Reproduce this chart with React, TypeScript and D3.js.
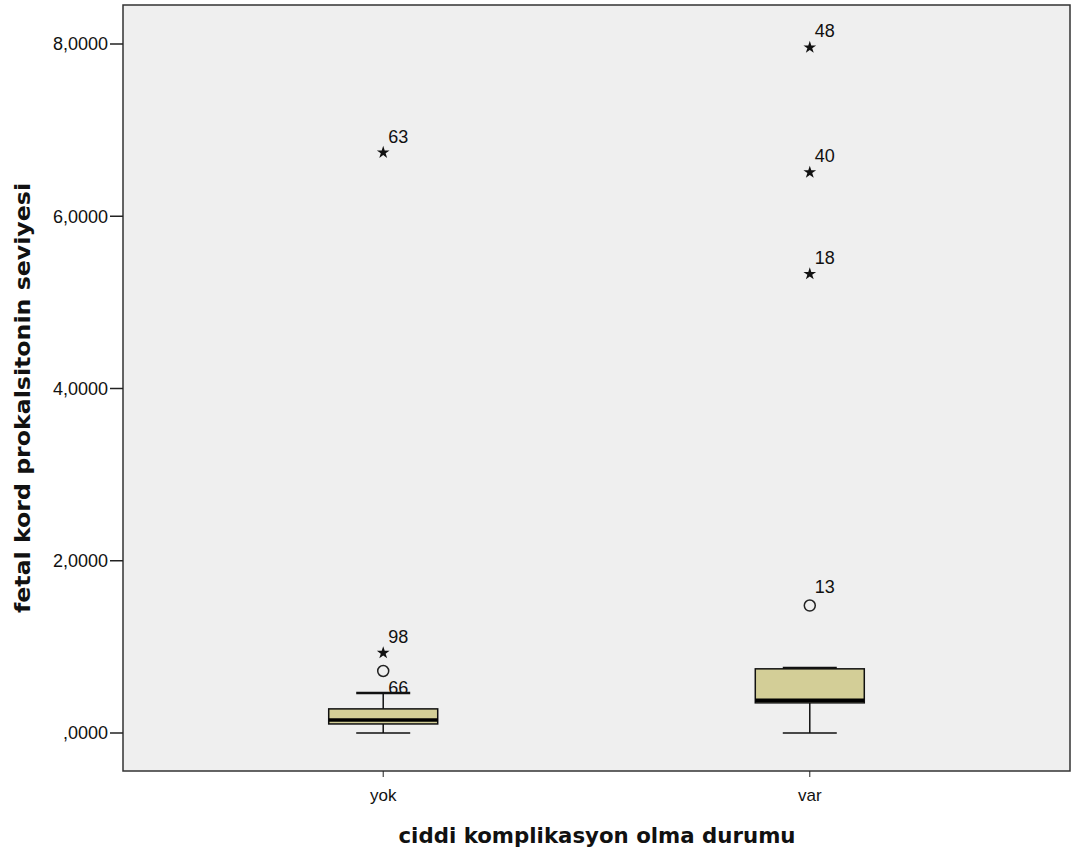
import React from "react";
import * as d3 from "d3";

const categories = ["yok", "var"];
const whiskerLow = [0.0, 0.0];
const q1 = [0.105, 0.35];
const medians = [0.15, 0.38];
const q3 = [0.28, 0.745];
const whiskerHigh = [0.465, 0.755];
// outliers
const outlierCat = [0, 0, 0, 1, 1, 1, 1];
const outlierVal = [6.74, 0.93, 0.72, 7.96, 6.51, 5.33, 1.48];
const outlierId = ["63", "98", "66", "48", "40", "18", "13"];
const outlierKind = ["star", "star", "circle", "star", "star", "star", "circle"];
const yTicks = [0, 2, 4, 6, 8];
const yTickLabels = [",0000", "2,0000", "4,0000", "6,0000", "8,0000"];

const W = 1072;
const H = 857;
const left = 123;
const right = 1070;
const top = 5;
const bottom = 771;

export default function App() {
  const x = d3.scalePoint<string>().domain(categories).range([left, right]).padding(0.61);
  const y = d3.scaleLinear().domain([0, 8]).range([733, 44]);
  const boxHalf = 54.5;
  const capHalf = 27;
  const star = d3.symbol().type(d3.symbolStar).size(50)() as string;
  const font = "'Liberation Sans', Arial, sans-serif";
  const titleFont = "'DejaVu Sans', Verdana, sans-serif";

  return (
    <svg width={W} height={H} style={{ position: "absolute", left: 0, top: 0, background: "#fff" }} fontFamily={font}>
      <rect x={left} y={top} width={right - left} height={bottom - top} fill="#efefef" stroke="#333" strokeWidth={1.5} />
      {yTicks.map((t, i) => (
        <g key={"yt" + i}>
          <line x1={left - 13} x2={left} y1={y(t)} y2={y(t)} stroke="#222" strokeWidth={1.5} />
          <text x={108} y={y(t)} dy="0.36em" textAnchor="end" fontSize={18} fill="#111">
            {yTickLabels[i]}
          </text>
        </g>
      ))}
      {categories.map((c) => (
        <g key={"xt" + c}>
          <line x1={x(c)} x2={x(c)} y1={bottom} y2={bottom + 6} stroke="#222" strokeWidth={1} />
          <text x={x(c)} y={801} textAnchor="middle" fontSize={17} fill="#111">
            {c}
          </text>
        </g>
      ))}
      {categories.map((c, i) => {
        const cx = x(c) as number;
        return (
          <g key={"box" + c}>
            <line x1={cx} x2={cx} y1={y(whiskerLow[i])} y2={y(q1[i])} stroke="#111" strokeWidth={1.5} />
            <line x1={cx} x2={cx} y1={y(q3[i])} y2={y(whiskerHigh[i])} stroke="#111" strokeWidth={1.5} />
            <line x1={cx - capHalf} x2={cx + capHalf} y1={y(whiskerLow[i])} y2={y(whiskerLow[i])} stroke="#111" strokeWidth={1.5} />
            <line x1={cx - capHalf} x2={cx + capHalf} y1={y(whiskerHigh[i])} y2={y(whiskerHigh[i])} stroke="#111" strokeWidth={2.5} />
            <rect
              x={cx - boxHalf}
              y={y(q3[i])}
              width={boxHalf * 2}
              height={y(q1[i]) - y(q3[i])}
              fill="#d3ce97"
              stroke="#111"
              strokeWidth={1.5}
            />
            <line x1={cx - boxHalf} x2={cx + boxHalf} y1={y(medians[i])} y2={y(medians[i])} stroke="#000" strokeWidth={3.5} />
          </g>
        );
      })}
      {outlierVal.map((v, i) => {
        const cx = x(categories[outlierCat[i]]) as number;
        const cy = y(v);
        const kind = outlierKind[i];
        const id = outlierId[i];
        // label for case 66 sits beside the whisker cap in the reference
        const ly = id === "66" ? y(whiskerHigh[0]) + 1 : kind === "star" ? cy - 10 : cy - 13;
        return (
          <g key={"o" + i}>
            {kind === "star" && <path d={star} transform={`translate(${cx},${cy})`} fill="#111" />}
            {kind === "circle" && <circle cx={cx} cy={cy} r={5.5} fill="none" stroke="#222" strokeWidth={1.5} />}
            <text x={cx + 5} y={ly} fontSize={18} fill="#111">{id}</text>
          </g>
        );
      })}
      <text
        x={597}
        y={843}
        textAnchor="middle"
        fontSize={21}
        fontWeight="bold"
        fill="#111"
        fontFamily={titleFont}
        textLength={397}
        lengthAdjust="spacingAndGlyphs"
      >
        ciddi komplikasyon olma durumu
      </text>
      <text
        transform={`translate(30, 398) rotate(-90)`}
        textAnchor="middle"
        fontSize={21}
        fontWeight="bold"
        fill="#111"
        fontFamily={titleFont}
        textLength={430}
        lengthAdjust="spacingAndGlyphs"
      >
        fetal kord prokalsitonin seviyesi
      </text>
    </svg>
  );
}
